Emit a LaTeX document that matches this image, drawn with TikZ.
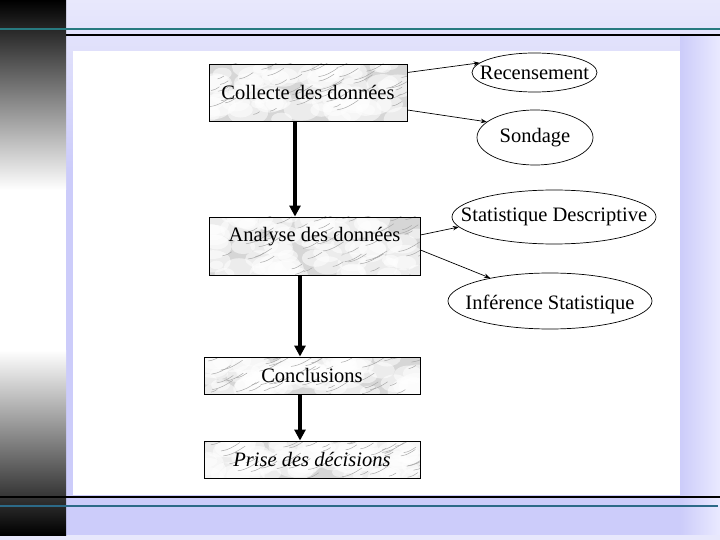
\documentclass[tikz,border=0pt]{standalone}
\usepackage{fontspec}
\setmainfont{Liberation Serif}
\usetikzlibrary{arrows.meta,shapes.geometric}
\definecolor{lavtop}{RGB}{232,232,252}
\definecolor{lavmid}{RGB}{204,204,250}
\definecolor{lavright}{RGB}{234,234,255}
\definecolor{tealtop}{RGB}{40,122,128}
\definecolor{tealbot}{RGB}{44,106,136}
\definecolor{marblebase}{RGB}{214,214,214}
\definecolor{marblevein}{RGB}{170,170,170}
\tikzset{
  bigfont/.style={font=\fontsize{20.5}{24}\selectfont},
  boxnode/.style={draw=black, line width=0.9pt, inner sep=0pt, bigfont},
  ellnode/.style={ellipse, draw=black, line width=0.7pt, inner sep=0pt},
  bigarrow/.style={line width=3.5pt, -{Triangle[width=11pt,length=11pt]}},
  thinarrow/.style={line width=0.7pt, -{Stealth[length=6pt,width=4.5pt]}},
  vein/.style={marblevein, line width=0.5pt, line cap=round},
  blob/.style={white, opacity=0.55},
}
\newcommand\marblefill[4]{%
  \begin{scope}
    \clip (#1,#2) rectangle (#3,#4);
    \fill[marblebase] (#1,#2) rectangle (#3,#4);
    \foreach \k in {1,...,70}{%
      \pgfmathsetmacro\mx{#1+rnd*(#3-#1)}%
      \pgfmathsetmacro\my{#2+rnd*(#4-#2)}%
      \pgfmathsetmacro\mr{4+rnd*9}%
      \fill[blob] (\mx,\my) ellipse ({\mr*1.6} and \mr);
    }
    \foreach \k in {1,...,45}{%
      \pgfmathsetmacro\mx{#1+rnd*(#3-#1)}%
      \pgfmathsetmacro\my{#2+rnd*(#4-#2)}%
      \pgfmathsetmacro\ml{6+rnd*18}%
      \draw[vein] (\mx,\my) .. controls ++(0.4*\ml,-0.05*\ml) and ++(-0.3*\ml,0.2*\ml) .. ++(\ml,-0.45*\ml);
    }
  \end{scope}}
\begin{document}
\begin{tikzpicture}[x=1pt,y=-1pt]
\pgfmathsetseed{11}
\useasboundingbox (0,0) rectangle (720,540);
% background
\fill[lavmid] (0,0) rectangle (720,540);
\shade[top color=lavtop, bottom color=lavmid] (0,0) rectangle (720,170);
\shade[left color=lavmid, right color=lavright] (680,36) rectangle (720,540);
\fill[lavtop] (0,535) rectangle (720,540);
% left bar
\shade[top color=black, bottom color=white] (0,0) rectangle (66,190);
\fill[white] (0,190) rectangle (66,350);
\shade[top color=white, bottom color=black] (0,350) rectangle (66,535);
% rules
\draw[tealtop, line width=2.5pt] (0,29) -- (720,29);
\draw[black, line width=2pt] (66,35.5) -- (720,35.5);
\draw[black, line width=2pt] (0,497) -- (720,497);
\draw[tealbot, line width=2.5pt] (0,506) -- (718,506);
% panel
\fill[white] (73,51) rectangle (680,495);
% marble fills
\marblefill{209}{64}{407}{121}
\marblefill{209}{217}{420}{275}
\marblefill{204}{357}{420}{394}
\marblefill{204}{441}{420}{478}
% boxes
\node[boxnode, minimum width=198pt, minimum height=57pt] (col) at (308,92.5) {Collecte des données};
\node[boxnode, minimum width=211pt, minimum height=58pt,
  label={[bigfont, yshift=9pt]center:Analyse des données}] (ana) at (314.5,246) {};
\node[boxnode, minimum width=216pt, minimum height=37pt] (con) at (312,375.5) {Conclusions};
\node[boxnode, minimum width=216pt, minimum height=37pt] (pri) at (312,459.5) {\itshape Prise des décisions};
% ellipses
\node[ellnode, minimum width=125pt, minimum height=39pt, label={[bigfont]center:Recensement}] (rec) at (534.5,72.5) {};
\node[ellnode, minimum width=116pt, minimum height=55pt, label={[bigfont]center:Sondage}] (son) at (535,137.5) {};
\node[ellnode, minimum width=204pt, minimum height=54pt, label={[bigfont]center:Statistique Descriptive}] (sd) at (554,217) {};
\node[ellnode, minimum width=204pt, minimum height=56pt, label={[bigfont, yshift=-3pt]center:Inférence Statistique}] (inf) at (550,301) {};
% thick arrows
\draw[bigarrow] ([xshift=-13pt]col.south) -- ([xshift=-13pt]col.south |- ana.north);
\draw[bigarrow] ([xshift=-14.5pt]ana.south) -- ([xshift=-14.5pt]ana.south |- con.north);
\draw[bigarrow] ([xshift=-12pt]con.south) -- ([xshift=-12pt]con.south |- pri.north);
% thin arrows
\draw[thinarrow] ([yshift=20pt]col.east) -- (rec.170);
\draw[thinarrow] ([yshift=-17.5pt]col.east) -- (son.162);
\draw[thinarrow] ([yshift=11pt]ana.east) -- (sd.186);
\draw[thinarrow] ([yshift=-4pt]ana.east) -- (inf.159);
\end{tikzpicture}
\end{document}
